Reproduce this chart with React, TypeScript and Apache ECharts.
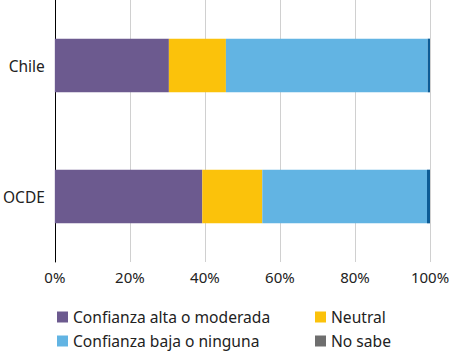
import React, { useEffect, useRef } from "react";
import * as echarts from "echarts";

const categories = ["Chile", "OCDE"];
const seriesNames = ["Confianza alta o moderada", "Neutral", "Confianza baja o ninguna", "No sabe"];
const altaModerada = [30.4, 39.3];
const neutral = [15.2, 16.0];
const bajaNinguna = [53.8, 43.9];
const noSabe = [0.6, 0.8];
const tickValues = [0, 20, 40, 60, 80, 100];

const colors = ["#6c5a8f", "#fbc20b", "#62b4e3", "#0d5c96"];
const legendColors = ["#6c5a8f", "#fbc20b", "#62b4e3", "#6e6e6e"];
const legendPos = [
  [57, 309],
  [315, 309],
  [57, 333],
  [315, 333],
];

export default function App() {
  const ref = useRef<HTMLDivElement>(null);
  useEffect(() => {
    if (!ref.current) return;
    const chart = echarts.init(ref.current, undefined, { renderer: "svg" });
    const values = [altaModerada, neutral, bajaNinguna, noSabe];
    const font = "Noto Sans";
    chart.setOption({
      animation: false,
      grid: { left: 54, right: 23, top: 0, height: 262, containLabel: false },
      xAxis: {
        type: "value",
        min: tickValues[0],
        max: tickValues[tickValues.length - 1],
        interval: 20,
        axisLine: { show: false },
        axisTick: { show: false },
        splitLine: { show: true, lineStyle: { color: "#d0d0d0", width: 1 } },
        axisLabel: {
          formatter: "{value}%",
          color: "#222",
          fontFamily: font,
          fontSize: 15,
          margin: 7,
        },
      },
      yAxis: {
        type: "category",
        data: categories,
        inverse: true,
        axisLine: { show: true, lineStyle: { color: "#000", width: 1 } },
        axisTick: { show: false },
        axisLabel: { color: "#222", fontFamily: font, fontSize: 15.5, margin: 10 },
      },
      legend: seriesNames.map((name, i) => ({
        left: legendPos[i][0],
        top: legendPos[i][1],
        padding: 0,
        itemWidth: 11,
        itemHeight: 11,
        icon: "rect",
        textStyle: { color: "#222", fontFamily: font, fontSize: 15.6 },
        data: [{ name, itemStyle: { color: legendColors[i] } }],
      })),
      series: seriesNames.map((name, i) => ({
        name,
        type: "bar",
        stack: "total",
        data: values[i],
        barWidth: "41%",
        itemStyle: { color: colors[i] },
      })),
    });
    return () => chart.dispose();
  }, []);
  return <div ref={ref} style={{ width: 453, height: 351, position: "absolute", left: 0, top: 0 }} />;
}
